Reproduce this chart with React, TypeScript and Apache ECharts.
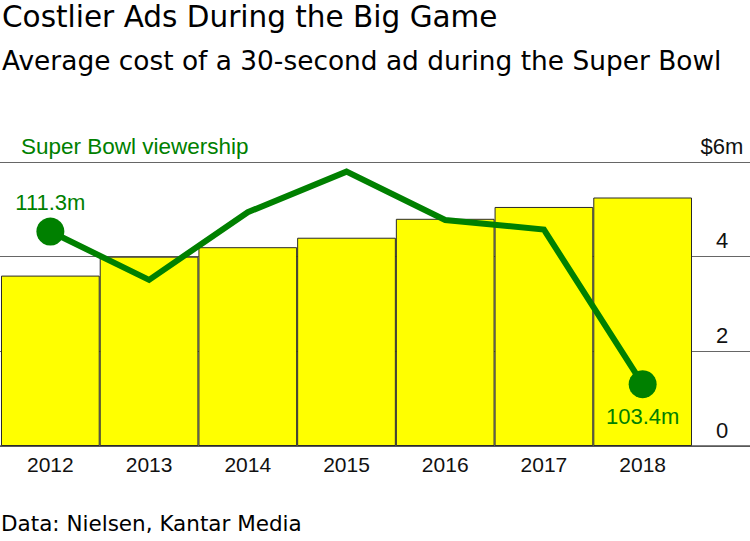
import React, { useEffect, useRef } from "react";
import * as echarts from "echarts";

const years = ["2012", "2013", "2014", "2015", "2016", "2017", "2018"];
const adCost = [3.6, 4.0, 4.2, 4.4, 4.8, 5.05, 5.25];
const viewership = [111.3, 108.8, 112.3, 114.4, 111.9, 111.4, 103.4];
const costTicks = [0, 2, 4, 6];

const GREEN = "#008000";
const NUM_FONT = "Liberation Sans";
const HEAD_FONT = "DejaVu Sans";

export default function App() {
  const ref = useRef<HTMLDivElement>(null);

  useEffect(() => {
    document.body.style.margin = "0";
    if (!ref.current) return;
    const chart = echarts.init(ref.current, undefined, { renderer: "svg" });
    const last = viewership.length - 1;

    const option: any = {
      animation: false,
      backgroundColor: "#ffffff",
      grid: [
        { left: 0, right: 0, top: 162, bottom: 95 },
        { left: 1, right: 58, top: 162, bottom: 95 },
      ],
      xAxis: [
        {
          type: "value",
          gridIndex: 0,
          min: 0,
          max: 1,
          axisLine: { show: true, lineStyle: { color: "#555", width: 1.5 } },
          axisTick: { show: false },
          axisLabel: { show: false },
          splitLine: { show: false },
        },
        {
          type: "category",
          gridIndex: 1,
          data: years,
          axisLine: { show: false },
          axisTick: { show: false },
          axisLabel: {
            color: "#111",
            fontFamily: NUM_FONT,
            fontSize: 21,
            margin: 8,
          },
        },
      ],
      yAxis: [
        {
          type: "value",
          gridIndex: 0,
          position: "right",
          min: 0,
          max: 6,
          interval: 2,
          axisLine: { show: false },
          axisTick: { show: false },
          splitLine: { show: true, lineStyle: { color: "#666", width: 1 } },
          axisLabel: {
            inside: true,
            margin: 28,
            align: "center",
            verticalAlign: "bottom",
            padding: [0, 0, 5, 0],
            color: "#111",
            fontFamily: NUM_FONT,
            fontSize: 22,
            showMinLabel: true,
            showMaxLabel: true,
            formatter: (v: number) => (v === costTicks[costTicks.length - 1] ? "$" + v + "m" : String(v)),
          },
        },
        {
          type: "value",
          gridIndex: 1,
          min: 0,
          max: 6,
          show: false,
        },
        {
          type: "value",
          gridIndex: 1,
          min: 100.2,
          max: 114.9,
          show: false,
        },
      ],
      series: [
        {
          type: "bar",
          name: "Ad cost",
          xAxisIndex: 1,
          yAxisIndex: 1,
          data: adCost,
          barCategoryGap: 0,
          itemStyle: { color: "#ffff00", borderColor: "#2a2a2a", borderWidth: 1 },
          z: 2,
        },
        {
          type: "line",
          name: "Super Bowl viewership",
          xAxisIndex: 1,
          yAxisIndex: 2,
          data: viewership.map((v, i) => {
            if (i === 0) {
              return {
                value: v,
                symbolSize: 28,
                label: { show: true, position: "top", distance: 4 },
              };
            }
            if (i === last) {
              return {
                value: v,
                symbolSize: 28,
                label: { show: true, position: "bottom", distance: 7 },
              };
            }
            return { value: v, symbolSize: 0, symbol: "none" };
          }),
          symbol: "circle",
          showAllSymbol: true,
          lineStyle: { color: GREEN, width: 6, join: "miter" },
          itemStyle: { color: GREEN },
          label: {
            show: false,
            color: GREEN,
            fontFamily: NUM_FONT,
            fontSize: 22,
            formatter: (p: any) => p.value + "m",
          },
          z: 5,
        },
      ],
      graphic: [
        {
          type: "text",
          left: 2,
          top: 2,
          style: {
            text: "Costlier Ads During the Big Game",
            fontFamily: HEAD_FONT,
            fontSize: 29.5,
            fill: "#000",
          },
        },
        {
          type: "text",
          left: 2,
          top: 47,
          style: {
            text: "Average cost of a 30-second ad during the Super Bowl",
            fontFamily: HEAD_FONT,
            fontSize: 26.4,
            fill: "#000",
          },
        },
        {
          type: "text",
          left: 21,
          top: 135,
          style: {
            text: "Super Bowl viewership",
            fontFamily: NUM_FONT,
            fontSize: 22.5,
            fill: GREEN,
          },
        },
        {
          type: "text",
          left: 1,
          top: 512,
          style: {
            text: "Data: Nielsen, Kantar Media",
            fontFamily: HEAD_FONT,
            fontSize: 21.5,
            fill: "#000",
          },
        },
      ],
    };

    chart.setOption(option);
    return () => chart.dispose();
  }, []);

  return (
    <div
      ref={ref}
      style={{ width: 750, height: 541, position: "absolute", left: 0, top: 0 }}
    />
  );
}
